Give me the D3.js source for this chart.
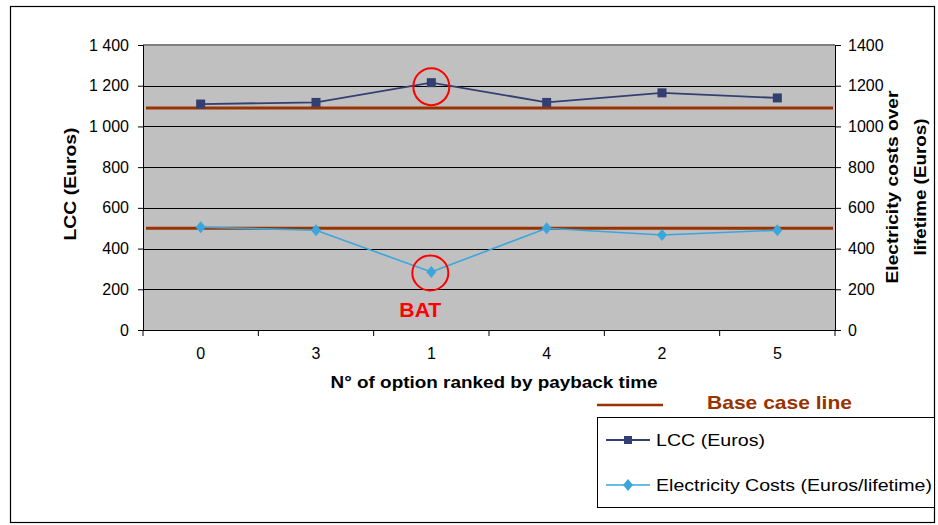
<!DOCTYPE html>
<html><head><meta charset="utf-8">
<script src="https://cdn.jsdelivr.net/npm/d3@7"></script>
<style>
body{margin:0;background:#fff;}
svg{display:block;font-family:"Liberation Sans",Arial,sans-serif;}
</style></head>
<body><svg id="c" width="938" height="525"></svg>
<script>
const categories = ["0","3","1","4","2","5"];
const lccValues = [1110, 1118, 1215, 1118, 1165, 1140];
const elecValues = [505, 490, 285, 500, 467, 490];
const baseCaseValues = [1090, 500];
const yTicks = [0,200,400,600,800,1000,1200,1400];
const highlighted = "1";

const svg = d3.select("#c");
const L=143, R=835, T=45, B=330;
const x = d3.scaleBand().domain(categories).range([L,R]);
const y = d3.scaleLinear().domain([0,1400]).range([B,T]);
const y2 = d3.scaleLinear().domain([0,1400]).range([B,T]);

// outer border
svg.append("rect").attr("x",10.5).attr("y",6.5).attr("width",924).attr("height",516)
  .attr("fill","#fff").attr("stroke","#000").attr("stroke-width",1.2);

// plot background
svg.append("rect").attr("x",L).attr("y",T).attr("width",R-L).attr("height",B-T).attr("fill","#c0c0c0");

// grid
svg.append("g").selectAll("line").data(yTicks.filter(d=>d>0&&d<1400)).join("line")
  .attr("x1",L).attr("x2",R).attr("y1",d=>Math.round(y(d))+0.5).attr("y2",d=>Math.round(y(d))+0.5)
  .attr("stroke","#000").attr("stroke-width",1);
// top border
svg.append("line").attr("x1",L).attr("x2",R).attr("y1",T).attr("y2",T).attr("stroke","#808080").attr("stroke-width",2);

// left axis
const ga = svg.append("g").attr("transform",`translate(${L},0)`)
  .call(d3.axisLeft(y).tickValues(yTicks).tickSize(5).tickPadding(9)
  .tickFormat(d=>d3.format(",")(d).replace(/,/g," ")));
ga.select(".domain").attr("stroke","#000");
ga.selectAll("text").attr("font-size",16).attr("fill","#000").attr("font-family","Liberation Sans, Arial");

// right axis
const gr = svg.append("g").attr("transform",`translate(${R},0)`)
  .call(d3.axisRight(y2).tickValues(yTicks).tickSize(6).tickPadding(7).tickFormat(d3.format("d")));
gr.select(".domain").attr("stroke","#000");
gr.selectAll("text").attr("font-size",16).attr("fill","#000").attr("font-family","Liberation Sans, Arial");

// bottom axis
svg.append("line").attr("x1",L).attr("x2",R).attr("y1",B+0.5).attr("y2",B+0.5).attr("stroke","#000");
const bounds = categories.map(c=>x(c)).concat([R]);
svg.append("g").selectAll("line").data(bounds).join("line")
  .attr("x1",d=>d).attr("x2",d=>d).attr("y1",B).attr("y2",B+6).attr("stroke","#000");
svg.append("g").selectAll("text").data(categories).join("text")
  .attr("x",d=>x(d)+x.bandwidth()/2).attr("y",359).attr("text-anchor","middle")
  .attr("font-size",16).text(d=>d);

// base case lines
svg.append("g").selectAll("line").data(baseCaseValues).join("line")
  .attr("x1",L+3).attr("x2",R-2).attr("y1",d=>y(d)).attr("y2",d=>y(d))
  .attr("stroke","#993300").attr("stroke-width",3);

// LCC line
const lccColor="#333f70", elecColor="#3aa6dc";
const line = d3.line().x((d,i)=>x(categories[i])+x.bandwidth()/2).y(d=>y(d));
svg.append("path").datum(lccValues).attr("d",line).attr("fill","none").attr("stroke",lccColor).attr("stroke-width",1.8);
svg.append("g").selectAll("rect").data(lccValues).join("rect")
  .attr("x",(d,i)=>x(categories[i])+x.bandwidth()/2-4.5).attr("y",d=>y(d)-4.5)
  .attr("width",9).attr("height",9).attr("fill",lccColor);

// Electricity line
const line2 = d3.line().x((d,i)=>x(categories[i])+x.bandwidth()/2).y(d=>y2(d));
svg.append("path").datum(elecValues).attr("d",line2).attr("fill","none").attr("stroke",elecColor).attr("stroke-width",1.6);
svg.append("g").selectAll("path.m").data(elecValues).join("path")
  .attr("transform",(d,i)=>`translate(${x(categories[i])+x.bandwidth()/2},${y2(d)})`)
  .attr("d","M0,-6L5,0L0,6L-5,0Z").attr("fill",elecColor);

// highlight circles
const hi = categories.indexOf(highlighted);
const hx = x(highlighted)+x.bandwidth()/2;
svg.append("ellipse").attr("cx",hx).attr("cy",y(lccValues[hi])+4).attr("rx",18).attr("ry",18.5)
  .attr("fill","none").attr("stroke","#ff0000").attr("stroke-width",2);
svg.append("ellipse").attr("cx",hx-1).attr("cy",y2(elecValues[hi])+1).attr("rx",18).attr("ry",17.5)
  .attr("fill","none").attr("stroke","#ff0000").attr("stroke-width",2);
svg.append("text").attr("x",hx-11).attr("y",y2(elecValues[hi])+45).attr("text-anchor","middle")
  .attr("font-size",20).attr("font-weight","bold").attr("fill","#ff0000")
  .attr("textLength",42).attr("lengthAdjust","spacingAndGlyphs").text("BAT");

// axis titles
svg.append("text").attr("transform","translate(76,184) rotate(-90)").attr("text-anchor","middle")
  .attr("font-size",17).attr("font-weight","bold").attr("textLength",113).attr("lengthAdjust","spacingAndGlyphs").text("LCC (Euros)");
svg.append("text").attr("transform","translate(898,187) rotate(-90)").attr("text-anchor","middle")
  .attr("font-size",17).attr("font-weight","bold").attr("textLength",193).attr("lengthAdjust","spacingAndGlyphs").text("Electricity costs over");
svg.append("text").attr("transform","translate(926,187) rotate(-90)").attr("text-anchor","middle")
  .attr("font-size",17).attr("font-weight","bold").attr("textLength",137).attr("lengthAdjust","spacingAndGlyphs").text("lifetime (Euros)");
svg.append("text").attr("x",494).attr("y",388).attr("text-anchor","middle")
  .attr("font-size",17).attr("font-weight","bold").attr("textLength",327).attr("lengthAdjust","spacingAndGlyphs")
  .text("N° of option ranked by payback time");

// base case legend
svg.append("line").attr("x1",597).attr("x2",663).attr("y1",405).attr("y2",405).attr("stroke","#993300").attr("stroke-width",2.5);
svg.append("text").attr("x",707).attr("y",409).attr("font-size",19).attr("font-weight","bold").attr("fill","#993300")
  .attr("textLength",145).attr("lengthAdjust","spacingAndGlyphs").text("Base case line");

// legend box
svg.append("rect").attr("x",597.5).attr("y",417.5).attr("width",337).attr("height",90).attr("fill","#fff").attr("stroke","#000");
svg.append("line").attr("x1",606).attr("x2",650).attr("y1",440).attr("y2",440).attr("stroke",lccColor).attr("stroke-width",1.8);
svg.append("rect").attr("x",624).attr("y",436).attr("width",8).attr("height",8).attr("fill",lccColor);
svg.append("text").attr("x",656).attr("y",446).attr("font-size",17).attr("textLength",109).attr("lengthAdjust","spacingAndGlyphs").text("LCC (Euros)");
svg.append("line").attr("x1",606).attr("x2",650).attr("y1",485).attr("y2",485).attr("stroke",elecColor).attr("stroke-width",1.6);
svg.append("path").attr("transform","translate(628,485)").attr("d","M0,-6L5,0L0,6L-5,0Z").attr("fill",elecColor);
svg.append("text").attr("x",656).attr("y",491).attr("font-size",17).attr("textLength",276).attr("lengthAdjust","spacingAndGlyphs").text("Electricity Costs (Euros/lifetime)");
</script></body></html>
